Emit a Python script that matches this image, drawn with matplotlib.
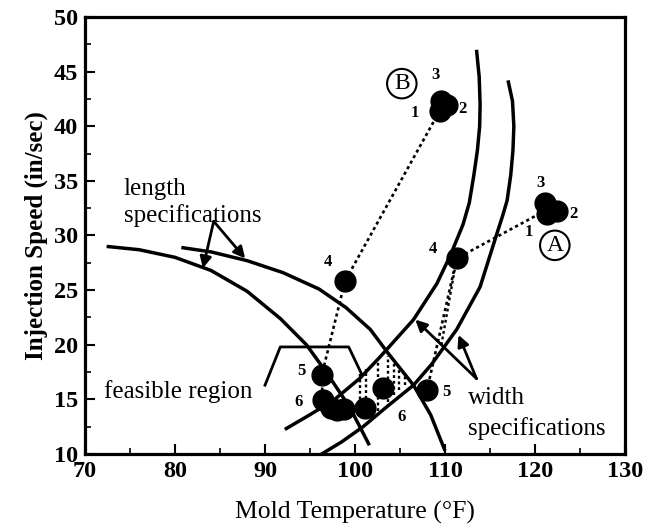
import matplotlib
matplotlib.use('Agg')
import matplotlib.pyplot as plt
from matplotlib.ticker import MultipleLocator

plt.rcParams['font.family'] = ['Liberation Serif', 'DejaVu Serif']

# spec curves (mold temp F, injection speed in/sec)
len1_x = [72.4, 76, 80, 84, 88, 91.7, 94.6, 96.8, 99.4, 101.6]
len1_y = [29.0, 28.7, 28.0, 26.8, 24.9, 22.4, 20.0, 17.5, 14.3, 10.8]
len2_x = [80.7, 84, 88, 92, 96, 99, 101.7, 103.7, 106.5, 108.4, 110.0]
len2_y = [28.9, 28.5, 27.7, 26.6, 25.1, 23.4, 21.4, 19.2, 16.3, 13.6, 10.3]
wid1_x = [92.2, 95, 97.6, 100.5, 102.8, 106.5, 109.1, 110.6, 112.0, 112.7, 113.2,
          113.6, 113.85, 113.9, 113.8, 113.5]
wid1_y = [12.25, 13.6, 14.9, 16.9, 18.9, 22.3, 25.6, 28.2, 31.0, 33.0, 35.5,
          37.8, 40.0, 42.0, 44.5, 47.0]
wid2_x = [96.1, 98.5, 100.9, 103.5, 106.5, 108.5, 111.3, 113.9, 115.7, 116.4, 116.9,
          117.3, 117.55, 117.65, 117.5, 117.0]
wid2_y = [9.9, 11.1, 12.5, 14.3, 16.3, 18.2, 21.4, 25.3, 30.0, 31.8, 33.2,
          35.5, 37.8, 40.0, 42.3, 44.2]

# optimisation runs
path_b_x = [109.4, 98.9, 96.3, 96.4]
path_b_y = [41.4, 25.85, 17.2, 14.95]
path_a_x = [121.2, 111.3, 108.0]
path_a_y = [32.3, 27.9, 15.85]
pts_x = [109.4, 110.2, 109.6, 98.9, 96.3, 96.4, 97.3, 98.0, 98.8, 101.1, 103.1,
         121.3, 122.4, 121.1, 111.3, 108.0]
pts_y = [41.4, 41.9, 42.3, 25.85, 17.2, 14.95, 14.2, 14.0, 14.1, 14.2, 16.0,
         32.0, 32.2, 32.95, 27.9, 15.85]

# step labels
lab_txt = ['1', '2', '3', '4', '5', '6', '1', '2', '3', '4', '5', '6']
lab_x = [106.7, 111.9, 108.9, 97.0, 94.0, 93.7, 119.3, 124.3, 120.6, 108.7, 110.2, 105.2]
lab_y = [41.2, 41.6, 44.7, 27.55, 17.6, 14.8, 30.35, 32.0, 34.8, 28.8, 15.7, 13.4]

# hatching of the feasible region
hatch_x = [100.6, 101.2, 102.6, 103.7, 104.3, 104.9, 105.6]
hatch_top = [17.3, 17.8, 18.4, 19.0, 18.6, 17.7, 17.1]
hatch_bot = [14.5, 14.0, 13.9, 14.8, 15.4, 15.9, 16.3]

# bracket around feasible region
brk_x = [90.0, 91.7, 99.3, 100.8]
brk_y = [16.3, 19.8, 19.8, 17.2]

fig = plt.figure(figsize=(6.47, 5.31), dpi=100)
ax = fig.add_axes([0.1314, 0.145, 0.8346, 0.823])

for cx, cy in [(len1_x, len1_y), (len2_x, len2_y), (wid1_x, wid1_y), (wid2_x, wid2_y)]:
    ax.plot(cx, cy, color='black', lw=2.5, solid_capstyle='butt', solid_joinstyle='round')

ax.plot(brk_x, brk_y, color='black', lw=2.0)

dots = (0, (1.2, 1.2))
ax.vlines(hatch_x, hatch_bot, hatch_top, colors='black', linestyles=dots, lw=1.7)
ax.plot(path_b_x, path_b_y, color='black', ls=dots, lw=1.9)
ax.plot(path_a_x, path_a_y, color='black', ls=dots, lw=1.9)
ax.plot([path_a_x[1], 109.6], [path_a_y[1], 20.0], color='black', ls=dots, lw=1.7)

ax.plot(pts_x, pts_y, 'o', color='black', ms=15, mec='black')

for t, x, y in zip(lab_txt, lab_x, lab_y):
    ax.text(x, y, t, fontsize=12, fontweight='bold', ha='center', va='center')

circ = dict(boxstyle='circle,pad=0.18', fc='white', ec='black', lw=1.5)
ax.text(105.2, 43.9, 'B', fontsize=17, ha='center', va='center', bbox=circ)
ax.text(122.2, 29.1, 'A', fontsize=17, ha='center', va='center', bbox=circ)

ax.text(74.3, 34.3, 'length', fontsize=18, ha='left', va='center')
ax.text(74.3, 31.8, 'specifications', fontsize=18, ha='left', va='center')
ax.text(112.6, 15.1, 'width', fontsize=18, ha='left', va='center')
ax.text(112.6, 12.35, 'specifications', fontsize=18, ha='left', va='center')
ax.text(80.4, 15.7, 'feasible region', fontsize=18, ha='center', va='center')

arr = dict(arrowstyle='-|>', color='black', lw=2.0, mutation_scale=17, shrinkA=0, shrinkB=0)
ax.annotate('', xy=(83.1, 27.0), xytext=(84.3, 31.3), arrowprops=arr)
ax.annotate('', xy=(87.8, 27.9), xytext=(84.3, 31.3), arrowprops=arr)
ax.annotate('', xy=(106.7, 22.3), xytext=(113.5, 16.9), arrowprops=arr)
ax.annotate('', xy=(111.5, 20.9), xytext=(113.5, 16.9), arrowprops=arr)

ax.set_xlim(70, 130)
ax.set_ylim(10, 50)
ax.xaxis.set_major_locator(MultipleLocator(10))
ax.xaxis.set_minor_locator(MultipleLocator(5))
ax.yaxis.set_major_locator(MultipleLocator(5))
ax.yaxis.set_minor_locator(MultipleLocator(2.5))
ax.tick_params(which='major', direction='in', length=7, width=1.5, labelsize=17.5, pad=5)
ax.tick_params(which='minor', direction='in', length=4, width=1.2)
for lb in ax.get_xticklabels() + ax.get_yticklabels():
    lb.set_fontweight('bold')
for s in ax.spines.values():
    s.set_linewidth(2.3)

ax.set_xlabel('Mold Temperature (\u00b0F)', fontsize=18.5, labelpad=14)
ax.set_ylabel('Injection Speed (in/sec)', fontsize=18, fontweight='bold', labelpad=4)

fig.savefig('out.png', dpi=100)
